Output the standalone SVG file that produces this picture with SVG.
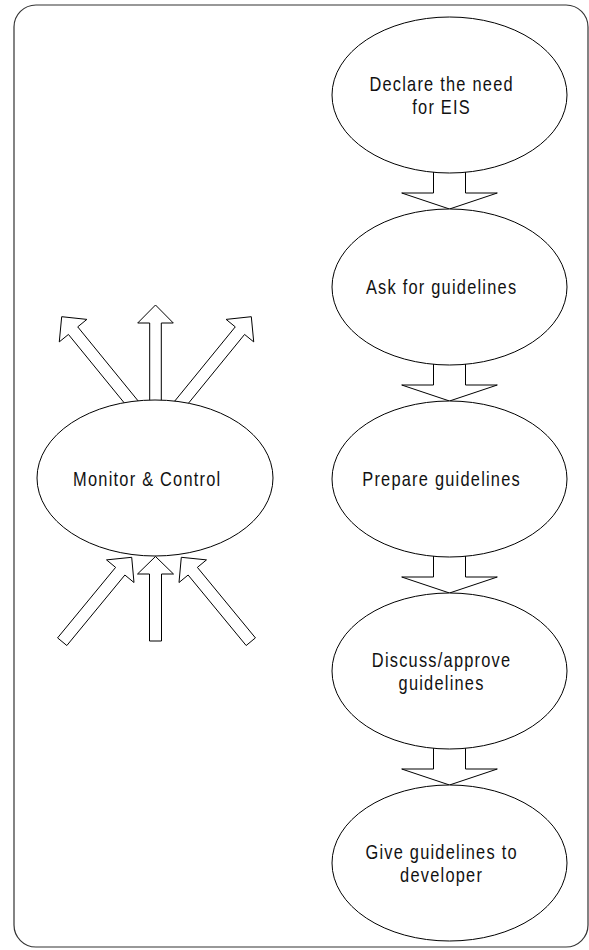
<svg xmlns="http://www.w3.org/2000/svg" width="589" height="950" viewBox="0 0 589 950">
  <style>
    .frame { fill: #ffffff; stroke: #333333; stroke-width: 1.2; }
    .node { fill: #ffffff; stroke: #000000; stroke-width: 1; }
    .arrow { fill: #ffffff; stroke: #000000; stroke-width: 1; stroke-linejoin: miter; }
    .label { font-family: "Liberation Sans", Arial, sans-serif; font-size: 20px; letter-spacing: 1.5px; text-anchor: middle; fill: #111111; }
  </style>

  <!-- outer rounded frame -->
  <rect class="frame" x="14" y="5" width="574" height="942" rx="22" ry="22"/>

  <!-- block arrows (drawn beneath the ellipses so their bases tuck under the outlines) -->
  <g id="connectors">
    <!-- process flow, right column -->
    <polygon class="arrow" points="433.5,165 433.5,193 401.7,193 449.5,209 497.3,193 465.5,193 465.5,165"/>
    <polygon class="arrow" points="433.5,357 433.5,385 401.7,385 449.5,401 497.3,385 465.5,385 465.5,357"/>
    <polygon class="arrow" points="433.5,549 433.5,577 401.7,577 449.5,593 497.3,577 465.5,577 465.5,549"/>
    <polygon class="arrow" points="433.5,741 433.5,769 401.7,769 449.5,785 497.3,769 465.5,769 465.5,741"/>

    <!-- outgoing arrows above Monitor & Control -->
    <polygon class="arrow" points="138.45,401.3 77.73,326.86 86.88,319.4 61.7,316.7 59.28,341.9 68.43,334.44 129.15,408.9"/>
    <polygon class="arrow" points="149.7,406 149.7,323 137.7,323 155.5,305 173.3,323 161.3,323 161.3,406"/>
    <polygon class="arrow" points="174.55,401.3 235.27,326.86 226.12,319.4 251.3,316.7 253.72,341.9 244.57,334.44 183.85,408.9"/>

    <!-- incoming arrows below Monitor & Control -->
    <polygon class="arrow" points="66.83,645.52 124.88,575.02 133.99,582.52 131.7,557.3 106.51,559.88 115.62,567.38 57.57,637.88"/>
    <polygon class="arrow" points="149.5,641 149.5,574 137.5,574 155.5,556.5 173.5,574 161.5,574 161.5,641"/>
    <polygon class="arrow" points="246.17,645.52 188.12,575.02 179.01,582.52 181.3,557.3 206.49,559.88 197.38,567.38 255.43,637.88"/>
  </g>

  <g id="monitor-control">
    <ellipse class="node" cx="155" cy="478" rx="118" ry="78"/>
    <text class="label" transform="translate(147.3,485.5) scale(0.82,1)">Monitor &amp; Control</text>
  </g>

  <g id="declare-need">
    <ellipse class="node" cx="449.5" cy="95" rx="117.5" ry="78"/>
    <text class="label" transform="translate(441.6,90.7) scale(0.82,1)">Declare the need</text>
    <text class="label" transform="translate(441.6,114) scale(0.82,1)">for EIS</text>
  </g>

  <g id="ask-guidelines">
    <ellipse class="node" cx="449.5" cy="287" rx="117.5" ry="78"/>
    <text class="label" transform="translate(441.6,293.5) scale(0.82,1)">Ask for guidelines</text>
  </g>

  <g id="prepare-guidelines">
    <ellipse class="node" cx="449.5" cy="479" rx="117.5" ry="78"/>
    <text class="label" transform="translate(441.6,485.7) scale(0.82,1)">Prepare guidelines</text>
  </g>

  <g id="discuss-approve">
    <ellipse class="node" cx="449.5" cy="671" rx="117.5" ry="78"/>
    <text class="label" transform="translate(441.6,666.7) scale(0.82,1)">Discuss/approve</text>
    <text class="label" transform="translate(441.6,690) scale(0.82,1)">guidelines</text>
  </g>

  <g id="give-guidelines">
    <ellipse class="node" cx="449.5" cy="863" rx="117.5" ry="78"/>
    <text class="label" transform="translate(441.6,858.7) scale(0.82,1)">Give guidelines to</text>
    <text class="label" transform="translate(441.6,882) scale(0.82,1)">developer</text>
  </g>
</svg>
